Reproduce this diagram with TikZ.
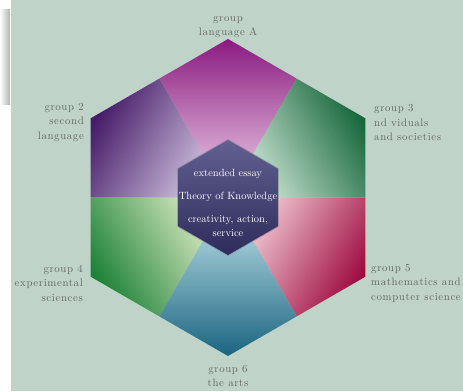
\documentclass[tikz,border=0pt]{standalone}
\usepackage{fontspec}
\newfontfamily\grpfont{lmroman10-regular.otf}[LetterSpace=6]

\definecolor{panel}{RGB}{191,211,200}
\definecolor{labelgray}{RGB}{100,104,102}
\definecolor{grpA}{RGB}{138,26,128}
\definecolor{grpAlt}{RGB}{244,218,238}
\definecolor{grpB}{RGB}{70,28,104}
\definecolor{grpBlt}{RGB}{216,204,230}
\definecolor{grpC}{RGB}{24,104,60}
\definecolor{grpClt}{RGB}{214,236,222}
\definecolor{grpD}{RGB}{30,130,56}
\definecolor{grpDlt}{RGB}{226,238,200}
\definecolor{grpE}{RGB}{160,12,64}
\definecolor{grpElt}{RGB}{246,216,224}
\definecolor{grpF}{RGB}{26,100,128}
\definecolor{grpFlt}{RGB}{204,236,242}
\definecolor{coretop}{RGB}{98,96,144}
\definecolor{corebot}{RGB}{46,44,90}

\begin{document}
\begin{tikzpicture}[x=1pt, y=1pt,
  grplabel/.style={inner sep=0pt, text=labelgray, align=#1,
    font=\grpfont\fontsize{10.8}{14.5}\selectfont},
  coretext/.style={inner sep=0pt, text=white, align=center,
    font=\fontsize{10.5}{14}\selectfont}]
  \useasboundingbox (-228,-193.5) rectangle (235,197.5);
  \clip (-228,-193.5) rectangle (235,197.5);

  % page and panel
  \fill[white] (-228,-193.5) rectangle (235,197.5);
  \shade[left color=white, right color=black!30] (-228,187.5) rectangle (-218,92.5);
  \fill[panel] (-216.5,-193.5) rectangle (235,197.5);

  % six group sectors
  \foreach \ang/\rot/\dark/\light in {90/0/grpA/grpAlt, 150/60/grpB/grpBlt, 30/-60/grpC/grpClt,
      210/120/grpD/grpDlt, -30/-120/grpE/grpElt, -90/180/grpF/grpFlt}{
    \shade[top color=\dark, bottom color=\light, shading angle=\rot]
      (0,0) -- (\ang-30:137.3) -- (\ang:158.5) -- (\ang+30:137.3) -- cycle;
  }

  % core
  \draw[corebot!70, line width=2pt, opacity=0.4]
    (90:57.5) -- (150:57.5) -- (210:57.5) -- (270:57.5) -- (330:57.5) -- (30:57.5) -- cycle;
  \shade[top color=coretop, bottom color=corebot]
    (90:57.5) -- (150:57.5) -- (210:57.5) -- (270:57.5) -- (330:57.5) -- (30:57.5) -- cycle;
  \node[coretext] (core) at (0,-5) {extended essay\\[9pt]Theory of Knowledge\\[9pt]creativity, action,\\service};

  % group labels
  \node[grplabel=center, anchor=south] (g1) at (0,159.5) {group\\language A};
  \node[grplabel=right, anchor=east] (g2) at (-144,75) {group 2\\second\\language};
  \node[grplabel=left, anchor=west] (g3) at (146,75) {group 3\\nd viduals\\and societies};
  \node[grplabel=right, anchor=east] (g4) at (-145,-85.5) {group 4\\experimental\\sciences};
  \node[grplabel=left, anchor=west] (g5) at (143,-85.5) {group 5\\mathematics and\\computer science};
  \node[grplabel=center, anchor=north] (g6) at (0,-167.5) {group 6\\the arts};
\end{tikzpicture}
\end{document}
